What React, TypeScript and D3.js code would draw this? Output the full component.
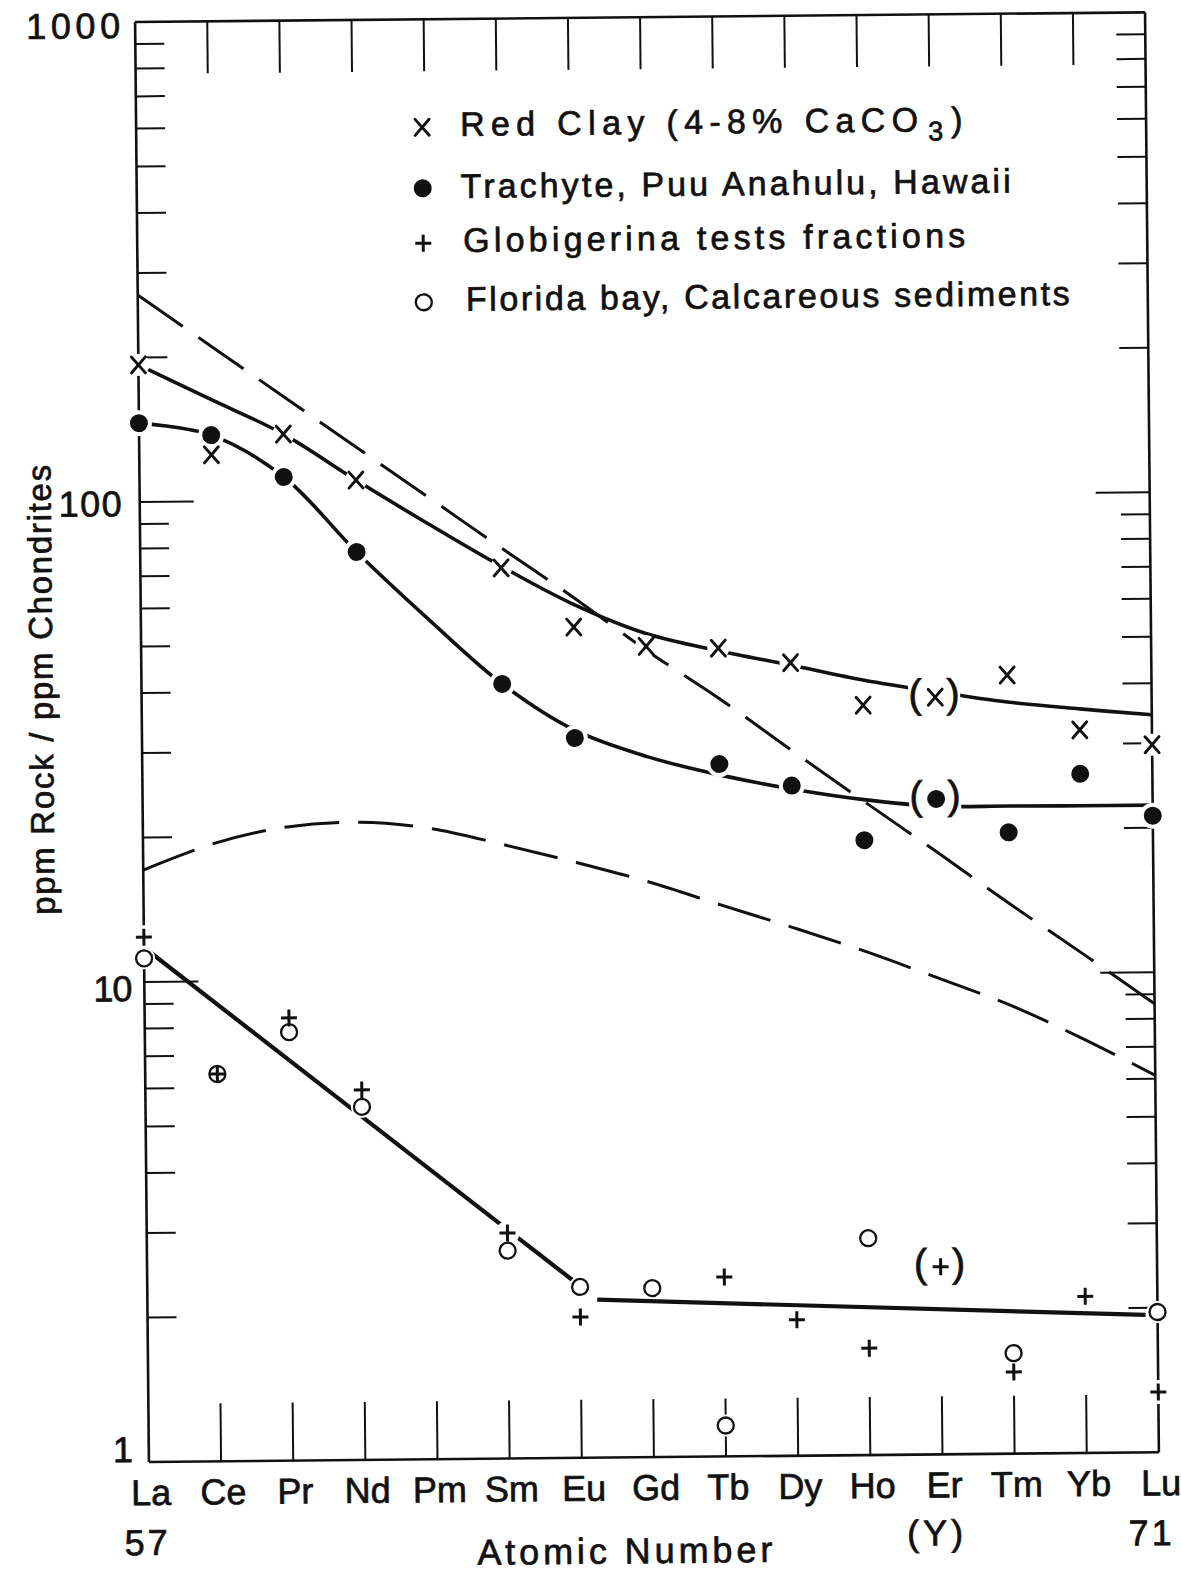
import React from "react";
import * as d3 from "d3";

// ---------- data ----------
const elements = ["La", "Ce", "Pr", "Nd", "Pm", "Sm", "Eu", "Gd", "Tb", "Dy", "Ho", "Er", "Tm", "Yb", "Lu"];
const yDecadeLabels = [1, 10, 100, 1000];
const atomicNumbers = [
  { el: "La", label: "57" },
  { el: "Lu", label: "71" },
];
const yttriumNote = { el: "Er", label: "(Y)" };

// measured points (ppm rock / ppm chondrites), null = not measured
const redClay = [193, 125, 137.6, 110, null, 71.7, 53.8, 48.9, 48.3, 44.9, 36.5, 37.8, 41.9, 32.1, 29.8];
const trachyte = [146, 137.4, 112, 77.9, null, 41.1, 31.6, null, 27.7, 24.9, 19.1, 23.2, 19.7, 26.0, 21.2];
const globigerina = [12.4, 6.41, 8.36, 5.9, null, 2.95, 1.965, null, 2.365, 1.92, 1.67, 2.46, 1.48, 2.12, 1.335];
const florida = [11.2, 6.41, 7.81, 5.44, null, 2.71, 2.27, 2.25, 1.16, null, 2.83, null, 1.62, null, 1.96];
const bracketedElement = "Er";
const bracketedSeries = ["redClay", "trachyte", "globigerina"];

// drawn curves
const redClayCurve = [193, 163, 137.6, 110, 88.8, 72.3, 60, 52, 47.7, 44.4, 41.2, 38.8, 36.8, 35.5, 34.4];
const trachyteCurve = [146, 137.4, 112, 77.9, 56, 41.1, 32.8, 28.8, 26.3, 24.5, 23.2, 22.4, 22.35, 22.3, 22.3];
const upperDashed = [270, 211, 165, 129, 101, 79, 62, 48, 38, 29.5, 23, 18, 14, 11, 8.6];
const lowerDashed = [17.1, 19.4, 20.9, 21.3, 20.6, 19.0, 17.4, 15.8, 14.1, 12.6, 11.2, 9.83, 8.6, 7.3, 6.1];
const lowCurveA: [string, number][] = [["La", 11.8], ["Eu", 2.28]];
const lowCurveB: [string, number][] = [["Eu", 2.14], ["Lu", 1.93]];

const legendLabels = [
  "Red Clay  (4-8% CaCO",
  "Trachyte, Puu Anahulu, Hawaii",
  "Globigerina tests fractions",
  "Florida bay, Calcareous sediments",
];
const legendShapes = ["x", "dot", "plus", "circle"];

// ---------- component ----------
const INK = "#111";
const FONT = "'Liberation Sans', Arial, sans-serif";

function Marker({ shape, cx, cy }: { shape: string; cx: number; cy: number }) {
  if (shape === "x")
    return (
      <g stroke={INK} strokeWidth={2.9} strokeLinecap="round">
        <line x1={cx - 7} y1={cy - 8} x2={cx + 7} y2={cy + 8} />
        <line x1={cx + 7} y1={cy - 8} x2={cx - 7} y2={cy + 8} />
      </g>
    );
  if (shape === "dot") return <circle cx={cx} cy={cy} r={9} fill={INK} />;
  if (shape === "plus")
    return (
      <g stroke={INK} strokeWidth={3}>
        <line x1={cx - 8} y1={cy} x2={cx + 8} y2={cy} />
        <line x1={cx} y1={cy - 8.5} x2={cx} y2={cy + 8.5} />
      </g>
    );
  return <circle cx={cx} cy={cy} r={8} fill="#fff" stroke={INK} strokeWidth={2.3} />;
}

export default function App() {
  const W = 1181,
    H = 1572;
  const left = 142,
    right = 1152,
    top = 22,
    bottom = 1462;
  const x = d3.scalePoint<string>().domain(elements).range([left, right]);
  const y = d3.scaleLog().domain([1, 1000]).range([bottom, top]);

  const pts = (vals: (number | null)[]) =>
    elements.map((e, i) => [e, vals[i]] as [string, number | null]).filter((d) => d[1] != null) as [string, number][];

  const smooth = d3
    .line<[string, number]>()
    .x((d) => x(d[0])!)
    .y((d) => y(d[1]))
    .curve(d3.curveCatmullRom.alpha(0.5));
  const straight = d3
    .line<[number, number]>()
    .x((d) => d[0])
    .y((d) => d[1]);

  const trimmed = (seg: [string, number][], startGap: number, endGap: number) => {
    const x0 = x(seg[0][0])!,
      y0 = y(seg[0][1]);
    const x1 = x(seg[1][0])!,
      y1 = y(seg[1][1]);
    const len = Math.hypot(x1 - x0, y1 - y0);
    const ix = d3.interpolateNumber(x0, x1);
    const iy = d3.interpolateNumber(y0, y1);
    const t0 = startGap / len,
      t1 = 1 - endGap / len;
    return straight([
      [ix(t0), iy(t0)],
      [ix(t1), iy(t1)],
    ]);
  };

  const yTicks = y.ticks().filter((v) => v > 1 && v < 1000);
  const isMajor = (v: number) => Math.abs(Math.log10(v) - Math.round(Math.log10(v))) < 1e-9;

  const series = [
    { key: "redClay", vals: redClay, shape: "x", halo: 11 },
    { key: "trachyte", vals: trachyte, shape: "dot", halo: 13 },
    { key: "florida", vals: florida, shape: "circle", halo: 11 },
    { key: "globigerina", vals: globigerina, shape: "plus", halo: 12 },
  ];

  const erIndex = elements.indexOf(bracketedElement);
  const brackets = series
    .filter((s) => bracketedSeries.includes(s.key))
    .map((s) => ({ key: s.key, cx: x(bracketedElement)!, cy: y(s.vals[erIndex] as number), cut: s.key !== "globigerina" }));

  const legendX = 428;
  const legendMarkerY = [130, 191, 246, 305];
  const legendBaseY = [139, 201, 255, 314];
  const legendTextLen = [458, 550, 502, 604];
  const legendTextX = [466, 466, 468, 470];

  const textStroke = { stroke: INK, strokeWidth: 0.7 };

  return (
    <svg
      width={W}
      height={H}
      viewBox={`0 0 ${W} ${H}`}
      style={{ position: "absolute", left: 0, top: 0, background: "#fff" }}
    >
      <rect x={0} y={0} width={W} height={H} fill="#fff" />
      <g transform={`rotate(-0.55 ${left} 741)`} fontFamily={FONT} fill={INK}>
        {/* frame */}
        <g stroke={INK} strokeWidth={2.6} fill="none">
          <line x1={left} y1={top} x2={right} y2={top} />
          <line x1={left} y1={bottom} x2={right} y2={bottom} />
          <line x1={left} y1={top} x2={left} y2={bottom} />
          <line x1={right} y1={top} x2={right} y2={bottom} />
        </g>
        {/* y ticks, both sides; element ticks top and bottom */}
        <g stroke={INK} strokeWidth={2}>
          {yTicks.map((v) => {
            const len = isMajor(v) ? 54 : 29;
            return (
              <g key={v}>
                <line x1={left} y1={y(v)} x2={left + len} y2={y(v)} />
                <line x1={right} y1={y(v)} x2={right - len} y2={y(v)} />
              </g>
            );
          })}
          {elements.slice(1, -1).map((e) => (
            <g key={e}>
              <line x1={x(e)} y1={top} x2={x(e)} y2={top + 52} />
              <line x1={x(e)} y1={bottom} x2={x(e)} y2={bottom - 58} />
            </g>
          ))}
        </g>

        {/* y tick labels */}
        <g fontSize={36} {...textStroke}>
          <text x={33} y={38} textLength={94} lengthAdjust="spacing">
            {String(yDecadeLabels[3])}
          </text>
          <text x={61} y={y(yDecadeLabels[2]) + 14} textLength={63} lengthAdjust="spacing">
            {String(yDecadeLabels[2])}
          </text>
          <text x={91} y={y(yDecadeLabels[1]) + 19} textLength={39} lengthAdjust="spacing">
            {String(yDecadeLabels[1])}
          </text>
          <text x={126} y={y(yDecadeLabels[0])} textAnchor="end">
            {String(yDecadeLabels[0])}
          </text>
        </g>

        {/* x labels */}
        <g fontSize={36} textAnchor="middle" {...textStroke}>
          {elements.map((e) => (
            <text key={e} x={x(e)! + 2} y={1505}>
              {e}
            </text>
          ))}
          {atomicNumbers.map((a) => (
            <text key={a.label} x={x(a.el)! + (a.el === "La" ? -2 : -8)} y={1555} letterSpacing={3}>
              {a.label}
            </text>
          ))}
          <text x={x(yttriumNote.el)! - 6} y={1553} letterSpacing={4}>
            {yttriumNote.label}
          </text>
          <text x={617} y={1568} textLength={295} lengthAdjust="spacing">
            Atomic Number
          </text>
        </g>

        {/* y axis title */}
        <text
          transform="translate(53,689) rotate(-90)"
          textAnchor="middle"
          fontSize={33}
          textLength={450}
          lengthAdjust="spacing"
          {...textStroke}
        >
          ppm Rock / ppm Chondrites
        </text>

        {/* curves */}
        <g fill="none" stroke={INK}>
          <path d={smooth(pts(upperDashed))!} strokeWidth={3} strokeDasharray="55 19" />
          <path d={smooth(pts(lowerDashed))!} strokeWidth={3} strokeDasharray="55 19" />
          <path d={smooth(pts(redClayCurve))!} strokeWidth={3.6} />
          <path d={smooth(pts(trachyteCurve))!} strokeWidth={3.6} />
          <path d={trimmed(lowCurveA, 0, 0)!} strokeWidth={4.2} />
          <path d={trimmed(lowCurveB, 17, 12)!} strokeWidth={4.2} />
        </g>

        {/* bracket gaps */}
        {brackets
          .filter((b) => b.cut)
          .map((b) => (
            <rect key={b.key} x={b.cx - 27} y={b.cy - 22} width={52} height={42} fill="#fff" />
          ))}

        {/* halos */}
        <g fill="#fff">
          {series.map((s) =>
            pts(s.vals).map((d) => <circle key={s.key + d[0]} cx={x(d[0])} cy={y(d[1])} r={s.halo} />)
          )}
        </g>

        {/* markers */}
        {series.map((s) =>
          pts(s.vals).map((d) => <Marker key={s.key + d[0]} shape={s.shape} cx={x(d[0])!} cy={y(d[1])} />)
        )}

        {/* brackets */}
        <g fontSize={40} textAnchor="middle" {...textStroke}>
          {brackets.map((b) => (
            <g key={b.key}>
              <text x={b.cx - 20} y={b.cy + 10}>
                (
              </text>
              <text x={b.cx + 18} y={b.cy + 10}>
                )
              </text>
            </g>
          ))}
        </g>

        {/* legend */}
        {legendLabels.map((lab, i) => (
          <g key={lab}>
            <Marker shape={legendShapes[i]} cx={legendX} cy={legendMarkerY[i]} />
            <text
              x={legendTextX[i]}
              y={legendBaseY[i]}
              fontSize={34}
              textLength={legendTextLen[i]}
              lengthAdjust="spacing"
              {...textStroke}
            >
              {lab}
            </text>
          </g>
        ))}
        <text x={934} y={legendBaseY[0] + 9} fontSize={27} {...textStroke}>
          3
        </text>
        <text x={957} y={legendBaseY[0]} fontSize={34} {...textStroke}>
          )
        </text>
      </g>
    </svg>
  );
}
